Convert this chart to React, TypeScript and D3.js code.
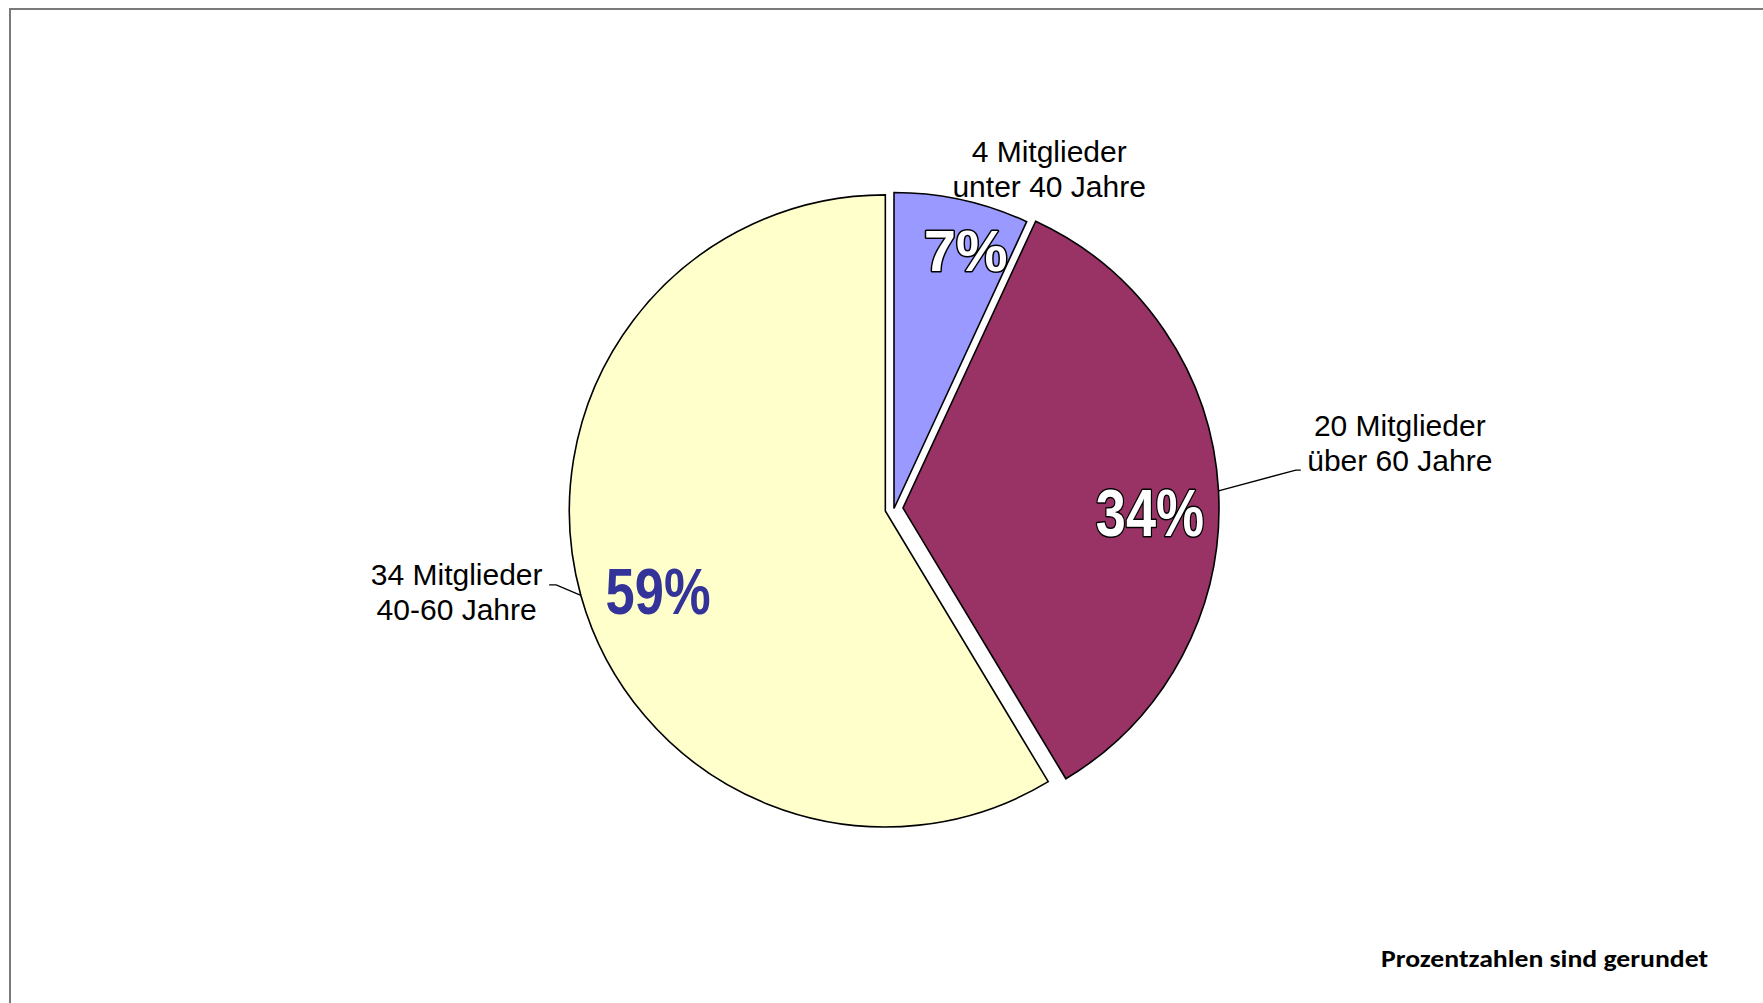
import React from "react";
import * as d3 from "d3";

// member counts per age group, clockwise from 12 o'clock
const groups = ["unter 40 Jahre", "über 60 Jahre", "40-60 Jahre"];
const members = [4, 20, 34];
const percentLabels = ["7%", "34%", "59%"];
const note = "Prozentzahlen sind gerundet";

const colors = ["#9999FF", "#993366", "#FFFFCC"];

const WIDTH = 1763;
const HEIGHT = 1003;
const center = { x: 894, y: 508.5 };
const radius = 316;
const explode = [0, 9, 9];

// label layout in polar terms, relative to each slice's own centre
const pctLayout = [
  { r: 268, nudge: 3.1, size: 58, narrow: 1, fill: "#fff", outline: true },
  { r: 247, nudge: 4.0, size: 66, narrow: 0.82, fill: "#fff", outline: true },
  { r: 241, nudge: -3.9, size: 64, narrow: 0.82, fill: "#333399", outline: false },
];
const textLayout = [
  { angle: 24.1, r: 380, leader: null as null | number[][] },
  { angle: 81.76, r: 502, leader: [[-99, 34], [-104, 34]] },
  { angle: 260.2, r: 435, leader: [[92.5, 0], [99.5, 0]] },
];

const rad = (deg: number) => (deg * Math.PI) / 180;

const App = () => {
  const pie = d3
    .pie<number>()
    .sort(null)
    .value((d) => d);
  const arcs = pie(members);
  const arc = d3.arc<d3.PieArcDatum<number>>().innerRadius(0).outerRadius(radius);

  return (
    <svg
      width={WIDTH}
      height={HEIGHT}
      style={{ position: "absolute", left: 0, top: 0, background: "#fff" }}
      fontFamily="'Liberation Sans', Arial, sans-serif"
    >
      {/* frame, only top and left edges fall inside the picture */}
      <rect x={10} y={9} width={WIDTH + 100} height={HEIGHT + 100} fill="none" stroke="#7a7a7a" strokeWidth={2} />

      {arcs.map((a, i) => {
        const mid = (a.startAngle + a.endAngle) / 2;
        const [ox, oy] = d3.pointRadial(mid, explode[i]);
        const cx = center.x + ox;
        const cy = center.y + oy;
        const pl = pctLayout[i];
        const [px, py] = d3.pointRadial(mid + rad(pl.nudge), pl.r);
        const tl = textLayout[i];
        const [tx, ty] = d3.pointRadial(rad(tl.angle), tl.r);
        const [ex, ey] = d3.pointRadial(mid, radius);
        return (
          <g key={groups[i]} transform={`translate(${cx},${cy})`}>
            <path d={arc(a) || ""} fill={colors[i]} stroke="#000" strokeWidth={1.6} strokeLinejoin="miter" />
            {tl.leader && (
              <polyline
                points={[[ex, ey], [tx + tl.leader[1][0], ty + tl.leader[1][1]], [tx + tl.leader[0][0], ty + tl.leader[0][1]]]
                  .map((p) => p.join(","))
                  .join(" ")}
                fill="none"
                stroke="#000"
                strokeWidth={1.3}
              />
            )}
            <text x={tx} y={ty} textAnchor="middle" fontSize={30} fill="#000">
              <tspan x={tx}>{`${members[i]} Mitglieder`}</tspan>
              <tspan x={tx} dy={35}>{groups[i]}</tspan>
            </text>
            <g transform={`translate(${px},${py + pl.size * 0.36}) scale(${pl.narrow},1)`}>
              <text
                textAnchor="middle"
                fontSize={pl.size}
                fontWeight="bold"
                fill={pl.fill}
                stroke={pl.outline ? "#000" : "none"}
                strokeWidth={pl.outline ? 3 : 0}
                paintOrder="stroke"
                strokeLinejoin="round"
              >
                {percentLabels[i]}
              </text>
            </g>
          </g>
        );
      })}

      <text
        x={1708}
        y={967}
        textAnchor="end"
        fontFamily="Carlito, Lato, 'Open Sans', sans-serif"
        fontWeight="bold"
        fontSize={25}
        textLength={327}
        lengthAdjust="spacingAndGlyphs"
        fill="#000"
      >
        {note}
      </text>
    </svg>
  );
};

export default App;
